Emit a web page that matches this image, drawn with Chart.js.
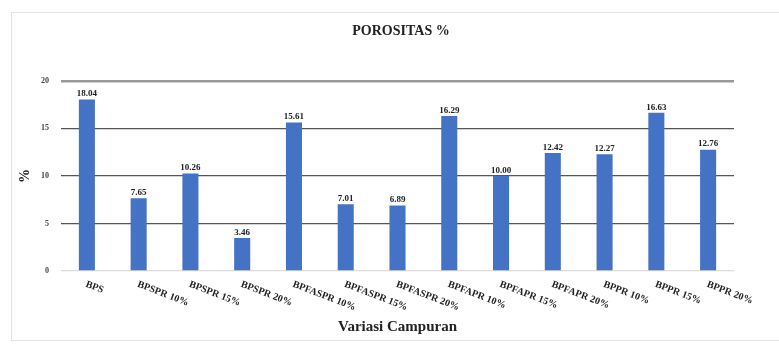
<!DOCTYPE html>
<html>
<head>
<meta charset="utf-8">
<script src="https://cdn.jsdelivr.net/npm/chart.js@4/dist/chart.umd.min.js"></script>
<style>
    html, body { margin: 0; padding: 0; background: #fff; }
    #wrap { position: relative; width: 779px; height: 347px; overflow: hidden; }
    #frame { position: absolute; left: 11px; top: 12px; width: 800px; height: 327px; border: 1px solid #e4e4e4; }
    #chart { position: absolute; left: 0; top: 0; }
</style>
</head>
<body>
<div id="wrap">
    <div id="frame"></div>
    <canvas id="chart" width="779" height="347"></canvas>
</div>
<script>
const categories = ['BPS', 'BPSPR 10%', 'BPSPR 15%', 'BPSPR 20%', 'BPFASPR 10%', 'BPFASPR 15%', 'BPFASPR 20%',
    'BPFAPR 10%', 'BPFAPR 15%', 'BPFAPR 20%', 'BPPR 10%', 'BPPR 15%', 'BPPR 20%'];
const porositas = [18.04, 7.65, 10.26, 3.46, 15.61, 7.01, 6.89, 16.29, 10.00, 12.42, 12.27, 16.63, 12.76];
const yTicks = [0, 5, 10, 15, 20];

const serif = "'Liberation Serif', 'Times New Roman', serif";

// label nilai di atas batang + label kategori miring
const labelsPlugin = {
    id: 'labelsPlugin',
    afterDatasetsDraw(chart) {
        const ctx = chart.ctx;
        const meta = chart.getDatasetMeta(0);
        ctx.save();
        ctx.fillStyle = '#222';
        ctx.font = 'bold 9px ' + serif;
        ctx.textAlign = 'center';
        ctx.textBaseline = 'bottom';
        meta.data.forEach((bar, i) => {
            ctx.fillText(porositas[i].toFixed(2), bar.x, bar.y - 1);
        });

        const xScale = chart.scales.x;
        const y0 = chart.chartArea.bottom + 13;
        ctx.font = 'bold 10px ' + serif;
        ctx.textAlign = 'left';
        ctx.textBaseline = 'middle';
        categories.forEach((c, i) => {
            const x = xScale.getPixelForValue(i);
            ctx.save();
            ctx.translate(x - 1, y0);
            ctx.rotate(21 * Math.PI / 180);
            ctx.fillText(c, 0, 0);
            ctx.restore();
        });
        ctx.restore();
    }
};

new Chart(document.getElementById('chart').getContext('2d'), {
    type: 'bar',
    data: {
        labels: categories,
        datasets: [{
            label: 'Porositas',
            data: porositas,
            backgroundColor: '#4472C4',
            categoryPercentage: 1,
            barPercentage: 0.31
        }]
    },
    options: {
        responsive: false,
        animation: false,
        layout: { padding: { left: 23, right: 0, top: 0, bottom: 0 } },
        plugins: {
            legend: { display: false },
            tooltip: { enabled: false },
            title: {
                display: true,
                text: 'POROSITAS %',
                color: '#222',
                font: { family: serif, size: 14, weight: 'bold' },
                padding: { top: 23, bottom: 41 }
            }
        },
        scales: {
            x: {
                grid: { display: false },
                border: { display: false },
                ticks: { display: false },
                title: {
                    display: true,
                    text: 'Variasi Campuran',
                    color: '#222',
                    font: { family: serif, size: 15, weight: 'bold' },
                    padding: { top: 0, bottom: 11 }
                },
                afterFit(scale) { scale.height = 76; }
            },
            y: {
                min: 0,
                max: 20,
                afterBuildTicks(scale) { scale.ticks = yTicks.map(v => ({ value: v })); },
                border: { display: false },
                grid: {
                    drawTicks: false,
                    color: c => c.tick.value === 0 ? '#dcdcdc' : (c.tick.value === 20 ? '#999' : '#555'),
                    lineWidth: c => c.tick.value === 20 ? 2.5 : 1.3
                },
                ticks: {
                    padding: 12,
                    color: '#444',
                    font: { family: serif, size: 8, weight: 'bold' }
                },
                title: {
                    display: true,
                    text: '%',
                    color: '#222',
                    font: { family: serif, size: 14, weight: 'bold', lineHeight: 0.3 },
                    padding: { top: 0, bottom: 0 }
                },
                afterFit(scale) { scale.width = 38; }
            },
            // sumbu kosong di kanan, hanya untuk ruang
            yRight: {
                position: 'right',
                display: true,
                grid: { display: false },
                border: { display: false },
                ticks: { display: false },
                afterFit(scale) { scale.width = 45; }
            }
        }
    },
    plugins: [labelsPlugin]
});
</script>
</body>
</html>
